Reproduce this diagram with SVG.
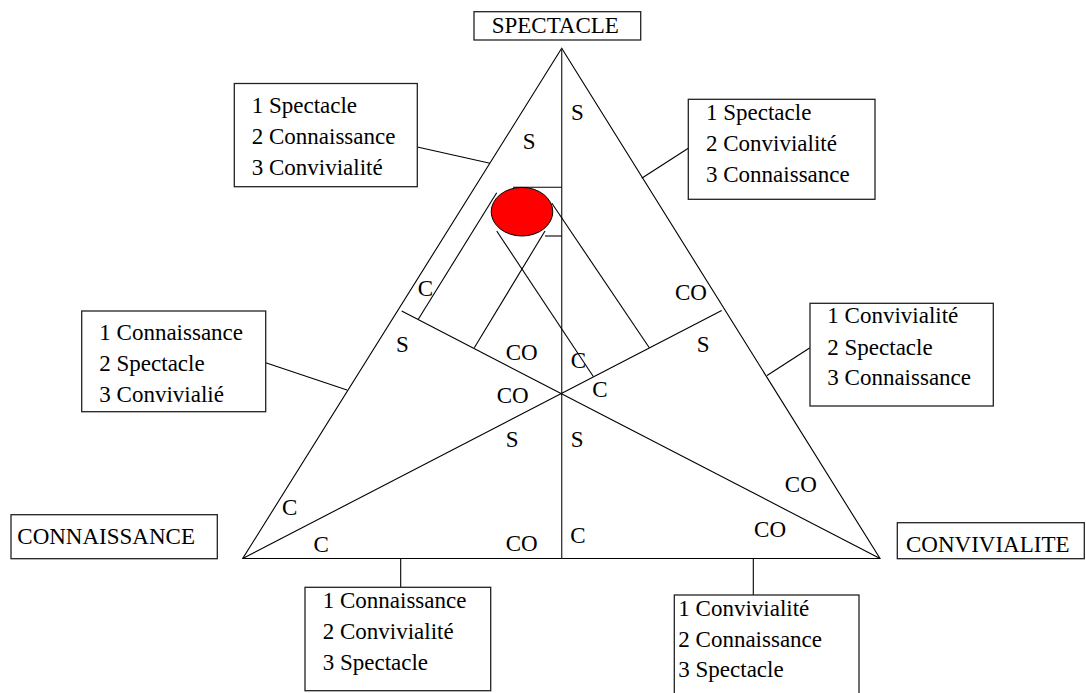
<svg xmlns="http://www.w3.org/2000/svg" width="1086" height="693" viewBox="0 0 1086 693">
<style>
.ln{stroke:#000;stroke-width:1.1;fill:none}
.vl{stroke:#333;stroke-width:1.3;fill:none}
.box{fill:#fff;stroke:#222;stroke-width:1.3}
text{font-family:'Liberation Serif','DejaVu Serif',serif;font-size:23px;fill:#000}
</style>
<rect width="1086" height="693" fill="#fff"/>
<g id="connectors">
<polygon class="ln" points="561.7,48.3 242.7,558.5 880,558.5"/>
<line class="vl" x1="561.7" y1="48.3" x2="561.7" y2="558.5"/>
<line class="ln" x1="242.7" y1="558.5" x2="721.7" y2="310.5"/>
<line class="ln" x1="880" y1="558.5" x2="401.7" y2="311"/>
<line class="ln" x1="496.7" y1="192.7" x2="418.3" y2="319.3"/>
<line class="ln" x1="496.7" y1="231" x2="593.3" y2="376.5"/>
<line class="ln" x1="545" y1="231" x2="474.3" y2="347.8"/>
<line class="ln" x1="551.7" y1="203" x2="649.3" y2="347.8"/>
<line class="ln" x1="513" y1="187.3" x2="561.7" y2="187.3"/>
<line class="ln" x1="545" y1="236" x2="561.7" y2="236"/>
<line class="ln" x1="417.3" y1="147" x2="490" y2="163.3"/>
<line class="ln" x1="688.3" y1="148.3" x2="641.7" y2="178.3"/>
<line class="ln" x1="265.7" y1="362.7" x2="347" y2="390"/>
<line class="ln" x1="810" y1="347.7" x2="767" y2="375.5"/>
<line class="ln" x1="400.7" y1="558.5" x2="400.7" y2="587.3"/>
<line class="ln" x1="753.3" y1="558.5" x2="753.3" y2="595"/>
</g>
<g id="point">
<ellipse cx="522" cy="211.7" rx="30.8" ry="24.3" fill="#ff0000" stroke="#000" stroke-width="1"/>
</g>
<g id="labels" font-family="Liberation Serif, serif">
<text x="571" y="120">S</text>
<text x="522.7" y="149">S</text>
<text x="417.7" y="295.7">C</text>
<text x="396" y="352.3">S</text>
<text x="505.7" y="360">CO</text>
<text x="570.7" y="368.3">C</text>
<text x="592.3" y="396.7">C</text>
<text x="496.7" y="403.3">CO</text>
<text x="675" y="300">CO</text>
<text x="696.7" y="352.3">S</text>
<text x="505.7" y="447.3">S</text>
<text x="570.7" y="447.3">S</text>
<text x="505.7" y="551">CO</text>
<text x="570.3" y="543.3">C</text>
<text x="282" y="515">C</text>
<text x="313.6" y="551.7">C</text>
<text x="784.8" y="492.3">CO</text>
<text x="754.1" y="536.7">CO</text>
</g>
<g id="node-spectacle">
<rect class="box" x="474" y="11.7" width="166.7" height="28.3"/>
<text x="491.7" y="32.7">SPECTACLE</text>
</g>
<g id="node-connaissance">
<rect class="box" x="11" y="514.7" width="206.3" height="44"/>
<text x="17.3" y="544">CONNAISSANCE</text>
</g>
<g id="node-convivialite">
<rect class="box" x="897.3" y="522.7" width="187" height="36"/>
<text x="906" y="551.7">CONVIVIALITE</text>
</g>
<g id="box-top-left">
<rect class="box" x="234.3" y="83.5" width="183" height="103.2"/>
<text x="251.7" y="113.3">1 Spectacle</text>
<text x="251.7" y="144.3">2 Connaissance</text>
<text x="251.7" y="175">3 Convivialité</text>
</g>
<g id="box-top-right">
<rect class="box" x="688.3" y="99.3" width="186.7" height="100"/>
<text x="706" y="120">1 Spectacle</text>
<text x="706" y="150.7">2 Convivialité</text>
<text x="706" y="181.7">3 Connaissance</text>
</g>
<g id="box-mid-left">
<rect class="box" x="81.7" y="311" width="184" height="100.7"/>
<text x="99.3" y="340">1 Connaissance</text>
<text x="99.3" y="370.7">2 Spectacle</text>
<text x="99.3" y="401.7">3 Convivialié</text>
</g>
<g id="box-mid-right">
<rect class="box" x="810" y="303.3" width="183.3" height="102.7"/>
<text x="827.3" y="323.3">1 Convivialité</text>
<text x="827.3" y="355">2 Spectacle</text>
<text x="827.3" y="385">3 Connaissance</text>
</g>
<g id="box-bottom-left">
<rect class="box" x="305" y="587.3" width="185.7" height="103.4"/>
<text x="322.7" y="607.7">1 Connaissance</text>
<text x="322.7" y="638.7">2 Convivialité</text>
<text x="322.7" y="670">3 Spectacle</text>
</g>
<g id="box-bottom-right">
<rect class="box" x="674.3" y="595" width="184.7" height="110"/>
<text x="678.3" y="616">1 Convivialité</text>
<text x="678.3" y="646.7">2 Connaissance</text>
<text x="678.3" y="676.7">3 Spectacle</text>
</g>
</svg>
